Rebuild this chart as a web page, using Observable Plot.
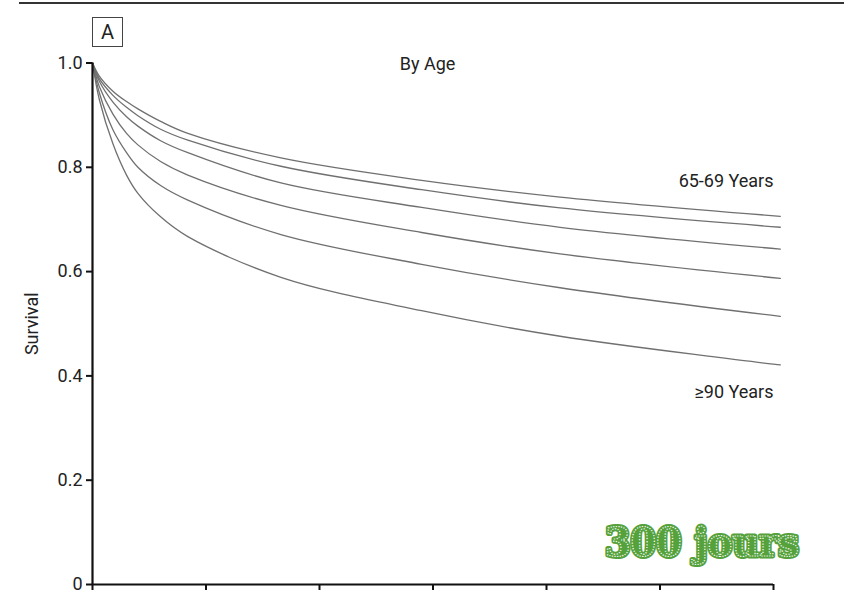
<!DOCTYPE html>
<html>
<head>
<meta charset="utf-8">
<script src="https://cdn.jsdelivr.net/npm/d3@7"></script>
<script src="https://cdn.jsdelivr.net/npm/@observablehq/plot@0.6"></script>
<style>
  html, body { margin: 0; padding: 0; background: #fff; }
  #chart { position: relative; width: 853px; height: 594px; }
</style>
</head>
<body>
<div id="chart"></div>
<script>
// Days since start (x) and survival per age group (y)
const days = [0, 3, 9, 15, 20, 30, 42, 83, 145, 206, 303];
const s6569 = [1, 0.975, 0.946, 0.926, 0.912, 0.888, 0.865, 0.818, 0.775, 0.743, 0.706];
const s7074 = [1, 0.970, 0.938, 0.915, 0.899, 0.873, 0.852, 0.802, 0.757, 0.722, 0.685];
const s7579 = [1, 0.965, 0.925, 0.897, 0.879, 0.851, 0.828, 0.770, 0.723, 0.685, 0.643];
const s8084 = [1, 0.955, 0.902, 0.865, 0.843, 0.811, 0.785, 0.727, 0.675, 0.634, 0.587];
const s8589 = [1, 0.943, 0.872, 0.828, 0.800, 0.765, 0.737, 0.671, 0.614, 0.569, 0.514];
const s90   = [1, 0.930, 0.845, 0.785, 0.750, 0.705, 0.667, 0.589, 0.525, 0.476, 0.421];
const groups = ["65-69", "70-74", "75-79", "80-84", "85-89", "≥90"];
const series = [s6569, s7074, s7579, s8084, s8589, s90];

const yTicks = [0, 0.2, 0.4, 0.6, 0.8, 1.0];
const xTicks = [0, 50, 100, 150, 200, 250, 300];

const curveLabels = ["65-69 Years", "≥90 Years"];
const curveLabelDay = [300, 300];
const curveLabelSurv = [0.773, 0.368];

const panelLabel = "A";
const plotTitle = "By Age";
const yLabel = "Survival";
const stamp = "300 jours";

const rows = [];
series.forEach((s, gi) => s.forEach((v, i) => rows.push({group: groups[gi], day: days[i], surv: v})));

const FONT = "'Liberation Sans Narrow', 'Arial Narrow', 'Roboto', sans-serif";

const plot = Plot.plot({
  width: 853,
  height: 594,
  marginLeft: 92,
  marginRight: 80,
  marginTop: 62.5,
  marginBottom: 10,
  style: {fontFamily: FONT, background: "#fff", overflow: "visible"},
  x: {domain: [0, 300], axis: null},
  y: {domain: [0, 1], axis: null},
  marks: [
    Plot.line(rows, {x: "day", y: "surv", z: "group", stroke: "#707070", strokeWidth: 1.3, curve: "catmull-rom"}),
    Plot.axisY({ticks: yTicks, label: null, tickSize: 6, tickPadding: 4, tickFormat: d => d === 0 ? "0" : d.toFixed(1), fontSize: 18, stroke: "#111", strokeWidth: 2, fill: "#222"}),
    Plot.axisX({ticks: xTicks, label: null, tickSize: 6, tickFormat: () => "", stroke: "#111", strokeWidth: 2}),
    Plot.ruleX([0], {stroke: "#111", strokeWidth: 2.2}),
    Plot.ruleY([0], {stroke: "#111", strokeWidth: 2.2}),
    Plot.text(curveLabels, {x: (d, i) => curveLabelDay[i], y: (d, i) => curveLabelSurv[i], text: d => d, textAnchor: "end", fontSize: 18, fill: "#222"}),
    Plot.text([plotTitle], {x: 147.6, y: 0.997, text: d => d, fontSize: 18, fill: "#222"}),
    Plot.text([yLabel], {x: 0, y: 0.5, dx: -60, rotate: -90, text: d => d, fontSize: 18, fill: "#222"})
  ]
});
document.getElementById("chart").appendChild(plot);

const svg = d3.select(plot);
// top rule
svg.append("line").attr("x1", 19).attr("x2", 844).attr("y1", 3).attr("y2", 3)
  .attr("stroke", "#333").attr("stroke-width", 2.2);
// panel label box
svg.append("rect").attr("x", 92.5).attr("y", 17.5).attr("width", 30).attr("height", 29)
  .attr("fill", "#fff").attr("stroke", "#444").attr("stroke-width", 1);
svg.append("text").attr("x", 107.5).attr("y", 39).attr("text-anchor", "middle")
  .attr("font-family", FONT).attr("font-size", 20).attr("fill", "#222").text(panelLabel);
// "300 jours" stamp
const stampG = svg.append("g").attr("font-family", "'DejaVu Serif', serif").attr("font-weight", "bold")
  .attr("font-size", 40);
stampG.append("text").attr("x", 702).attr("y", 556).attr("text-anchor", "middle")
  .attr("fill", "#55a13c").attr("stroke", "#55a13c").attr("stroke-width", 5).attr("stroke-linejoin", "round")
  .attr("textLength", 194).attr("lengthAdjust", "spacingAndGlyphs").text(stamp);
stampG.append("text").attr("x", 702).attr("y", 556).attr("text-anchor", "middle")
  .attr("fill", "none").attr("stroke", "#fff").attr("stroke-width", 1.2).attr("stroke-dasharray", "1.2,1.6")
  .attr("textLength", 194).attr("lengthAdjust", "spacingAndGlyphs").text(stamp);
</script>
</body>
</html>
